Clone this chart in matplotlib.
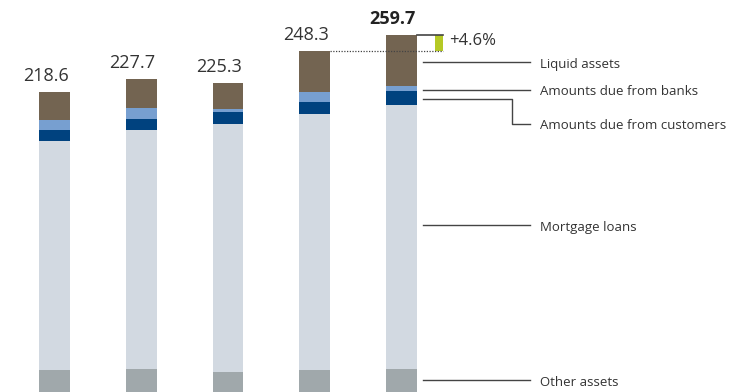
import matplotlib
matplotlib.use("Agg")
import matplotlib.pyplot as plt

# Balance sheet assets (EUR bn), stacked bottom to top
years = ["2019", "2020", "2021", "2022", "2023"]
other_assets = [18.2, 18.9, 16.7, 18.2, 18.9]
mortgage_loans = [165.1, 172.1, 179.0, 184.6, 190.3]
due_from_customers = [7.9, 7.9, 8.7, 8.7, 10.1]
due_from_banks = [7.2, 7.9, 2.2, 7.2, 3.6]
liquid_assets = [20.2, 20.9, 18.7, 29.6, 36.8]
totals = [218.6, 227.7, 225.3, 248.3, 259.7]

series = [
    ("Other assets", other_assets, "#a0a8ab"),
    ("Mortgage loans", mortgage_loans, "#d2d9e1"),
    ("Amounts due from customers", due_from_customers, "#00427f"),
    ("Amounts due from banks", due_from_banks, "#779fd0"),
    ("Liquid assets", liquid_assets, "#736451"),
]

plt.rcParams["font.family"] = ["Open Sans", "DejaVu Sans"]
TXT = "#333333"
LINE = "#444444"

fig = plt.figure(figsize=(7.31, 3.92), dpi=100)
ax = fig.add_axes([0, 0, 1, 1])
ax.set_xlim(-0.628, 7.798)
ax.set_ylim(2.3, 284.9)
ax.axis("off")

x = list(range(len(years)))
width = 0.357
px = 1 / 86.75  # one pixel in x data units

bottoms = [0.0] * len(years)
segments = {}
for name, vals, color in series:
    ax.bar(x, vals, width, bottom=bottoms, color=color, linewidth=0)
    segments[name] = [(b, b + v) for b, v in zip(bottoms, vals)]
    bottoms = [b + v for b, v in zip(bottoms, vals)]

# Totals above the bars
for i, t in enumerate(totals):
    last = i == len(totals) - 1
    ax.text(x[i] + width / 2 - 1 * px, t + 5, f"{t:.1f}", ha="right", va="bottom",
            fontsize=13, color="#222222" if last else TXT,
            fontweight="bold" if last else "normal")

# Year-on-year change marker
prev, cur = totals[-2], totals[-1]
change = (cur - prev) / prev * 100
gx = x[-1] + width / 2 + 26 * px
ax.bar(gx - 4 * px, cur - prev, 8 * px, bottom=prev, color="#b5c925", linewidth=0)
ax.plot([x[-2] + width / 2, gx], [prev, prev], color=LINE, lw=0.9, ls=(0, (1, 1.2)))
ax.plot([x[-1] + width / 2, gx], [cur, cur], color=LINE, lw=1.2)
ax.text(gx + 6 * px, (prev + cur) / 2 + 1, f"+{change:.1f}%", ha="left", va="center",
        fontsize=12, color=TXT)

# Leader lines and series labels next to the last bar
lx0 = x[-1] + width / 2 + 6 * px
lx1 = lx0 + 107 * px
tx = lx1 + 10 * px
last_i = len(years) - 1


def mid(name, frac=0.5):
    lo, hi = segments[name][last_i]
    return lo + (hi - lo) * frac


label_y = {
    "Liquid assets": mid("Liquid assets", 0.47),
    "Amounts due from banks": mid("Amounts due from banks", 0.25),
    "Mortgage loans": mid("Mortgage loans", 0.545),
    "Other assets": mid("Other assets", 0.58),
}
for name, y in label_y.items():
    ax.plot([lx0, lx1], [y, y], color=LINE, lw=1)
    ax.text(tx, y - 1.5, name, ha="left", va="center", fontsize=9.5, color=TXT)

# Customers label steps down below the banks label
yc = mid("Amounts due from customers", 0.44)
yc_text = yc - 18
elbow = lx0 + 89 * px
ax.plot([lx0, elbow, elbow, lx1], [yc, yc, yc_text, yc_text], color=LINE, lw=1)
ax.text(tx, yc_text - 1, "Amounts due from customers", ha="left", va="center",
        fontsize=9.5, color=TXT)

fig.savefig("out.png", dpi=100)
